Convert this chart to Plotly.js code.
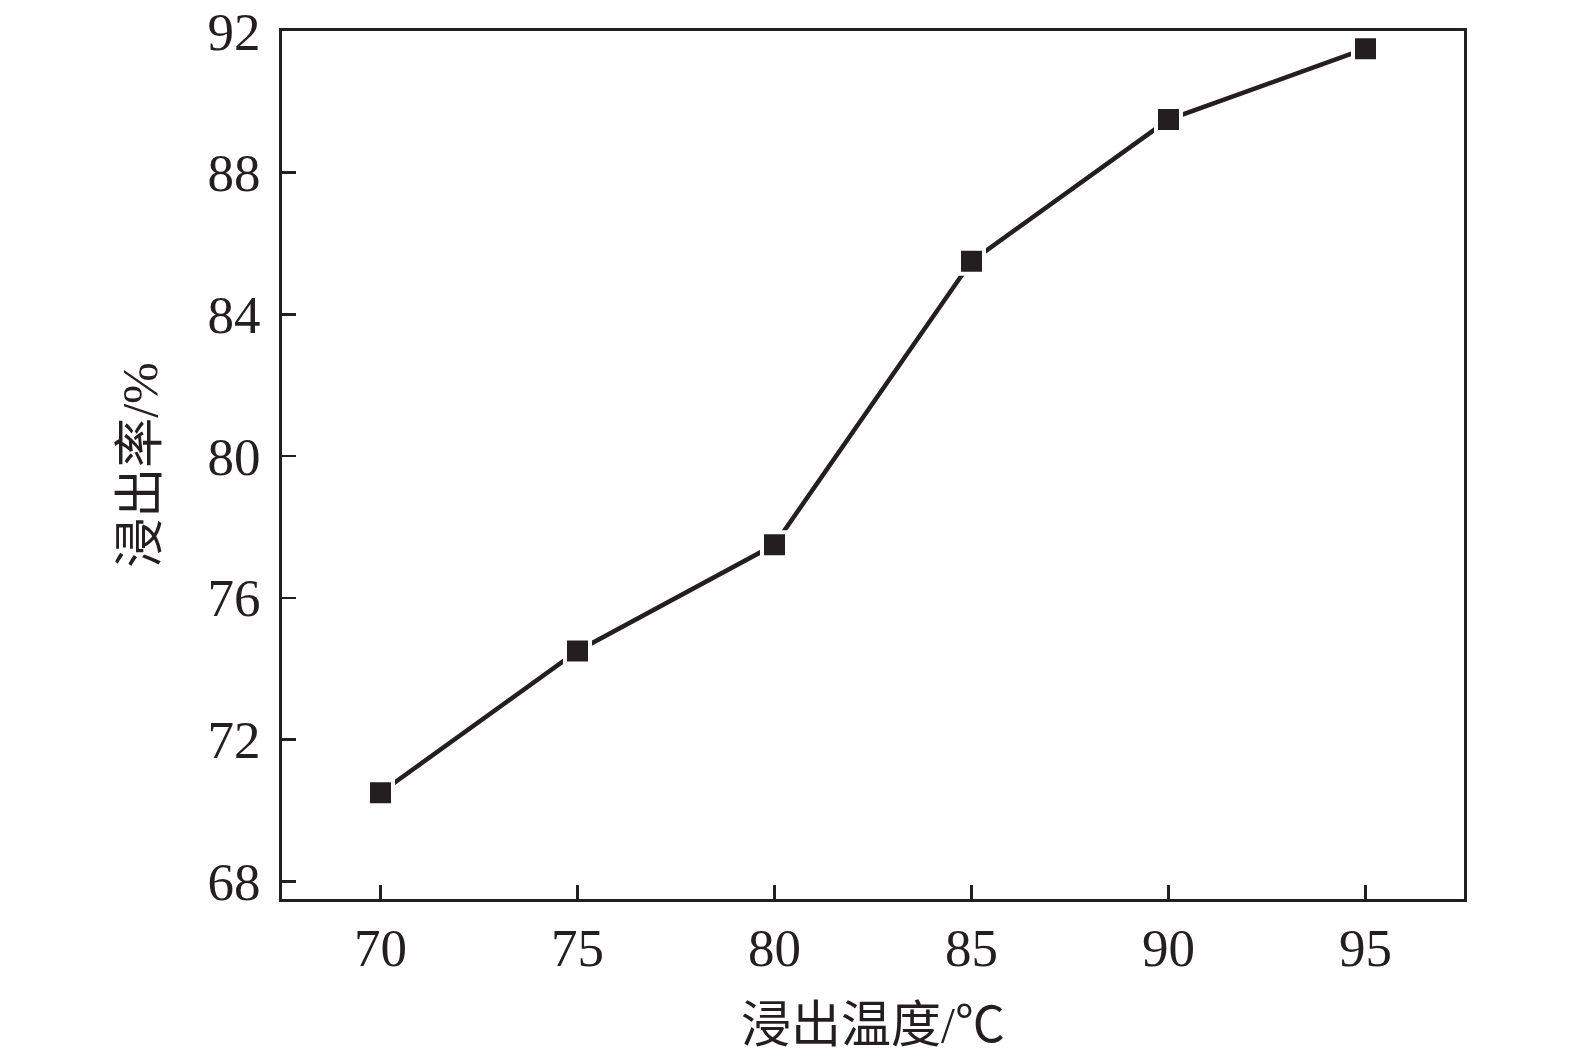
<!DOCTYPE html>
<html>
<head>
<meta charset="utf-8">
<script src="https://cdn.plot.ly/plotly-3.0.1.min.js"></script>
<style>html,body{margin:0;padding:0;background:#fff;}#chart{width:1575px;height:1059px;}</style>
</head>
<body>
<div id="chart"></div>
<script>
const temperatures = [70, 75, 80, 85, 90, 95];
const leachingRate = [70.5, 74.5, 77.5, 85.5, 89.5, 91.5];
const xTicks = [70, 75, 80, 85, 90, 95];
const yTicks = [68, 72, 76, 80, 84, 88, 92];

const ink = '#231f20';
const fontFam = '"Liberation Serif", "Times New Roman", "Noto Sans CJK SC", serif';

const trace = {
  x: temperatures,
  y: leachingRate,
  type: 'scatter',
  mode: 'lines+markers',
  line: {color: ink, width: 4.5},
  marker: {symbol: 'square', size: 25, color: ink, line: {color: '#ffffff', width: 4}},
  cliponaxis: false,
  hoverinfo: 'skip'
};

const layout = {
  width: 1575,
  height: 1059,
  paper_bgcolor: '#ffffff',
  plot_bgcolor: '#ffffff',
  showlegend: false,
  margin: {l: 282, r: 111, t: 31, b: 160, pad: 0},
  font: {family: fontFam, color: ink, size: 53},
  xaxis: {
    range: [67.5, 97.5],
    tickvals: xTicks,
    ticktext: xTicks.map(String),
    ticks: 'inside',
    ticklen: 14,
    tickwidth: 2.5,
    tickcolor: ink,
    showline: true,
    linecolor: ink,
    linewidth: 3,
    mirror: true,
    showgrid: false,
    zeroline: false,
    ticklabelstandoff: 0,
    tickfont: {family: fontFam, size: 53, color: ink},
    title: {text: '浸出温度/℃', font: {family: fontFam, size: 50, color: ink}, standoff: 32}
  },
  yaxis: {
    range: [67.5, 92],
    tickvals: yTicks,
    ticktext: yTicks.map(String),
    ticks: 'inside',
    ticklen: 14,
    tickwidth: 2.5,
    tickcolor: ink,
    showline: true,
    linecolor: ink,
    linewidth: 3,
    mirror: true,
    showgrid: false,
    zeroline: false,
    ticklabelstandoff: 8,
    tickfont: {family: fontFam, size: 53, color: ink},
    title: {text: '浸出率/%', font: {family: fontFam, size: 50, color: ink}, standoff: 34}
  }
};

Plotly.newPlot('chart', [trace], layout, {displayModeBar: false, staticPlot: true});
</script>
</body>
</html>
